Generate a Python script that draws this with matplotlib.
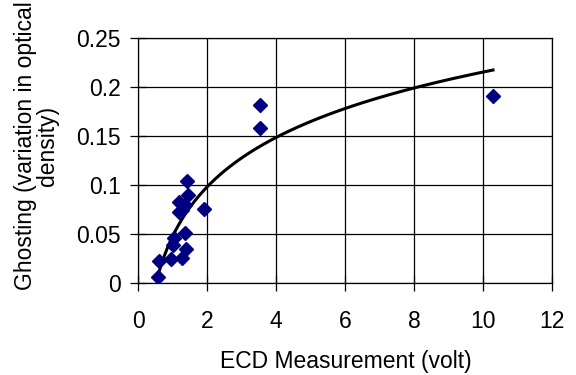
import numpy as np
import matplotlib
matplotlib.use("Agg")
import matplotlib.pyplot as plt

plt.rcParams["font.family"] = ["Liberation Sans", "DejaVu Sans"]

# measured points (volt, optical density variation)
ecd = [1.42, 1.46, 1.19, 1.37, 1.27, 1.20, 1.92, 1.37, 1.03, 1.00,
       1.39, 1.27, 0.95, 0.61, 0.57, 3.53, 3.53, 10.29]
ghost = [0.104, 0.090, 0.083, 0.080, 0.075, 0.072, 0.076, 0.051, 0.046, 0.039,
         0.035, 0.026, 0.025, 0.022, 0.006, 0.182, 0.158, 0.191]

x_ticks = [0, 2, 4, 6, 8, 10, 12]
y_ticks = [0, 0.05, 0.1, 0.15, 0.2, 0.25]
y_labels = ["0", "0.05", "0.1", "0.15", "0.2", "0.25"]

# logarithmic trend line fitted to the points
a, b = np.polyfit(np.log(ecd), ghost, 1)
xs = np.linspace(min(ecd), max(ecd), 200)
ys = a * np.log(xs) + b

fig = plt.figure(figsize=(5.76, 3.75), dpi=100)
ax = fig.add_axes([0.2396, 0.2453, 0.7188, 0.6534])

ax.plot(xs, ys, color="black", lw=2.2, zorder=3)
ax.plot(ecd, ghost, "D", color="#000080", markersize=7, ls="none", zorder=4)

ax.set_xlim(0, 12)
ax.set_ylim(0, 0.25)
ax.set_xticks(x_ticks)
ax.set_yticks(y_ticks)
ax.set_yticklabels(y_labels)
ax.grid(True, color="black", lw=0.9)
ax.set_axisbelow(True)
for s in ax.spines.values():
    s.set_linewidth(0.9)
ax.tick_params(direction="inout", length=11, width=0.9, labelsize=16.5)
ax.tick_params(axis="x", pad=14)
ax.tick_params(axis="y", pad=7)

fig.text(0.6007, 0.019, "ECD Measurement (volt)", fontsize=16.5,
         ha="center", va="baseline")
fig.text(0.063, 0.611, "Ghosting (variation in optical\ndensity)", fontsize=16.5,
         rotation=90, ha="center", va="center", linespacing=0.95)

fig.savefig("out.png", dpi=100)
